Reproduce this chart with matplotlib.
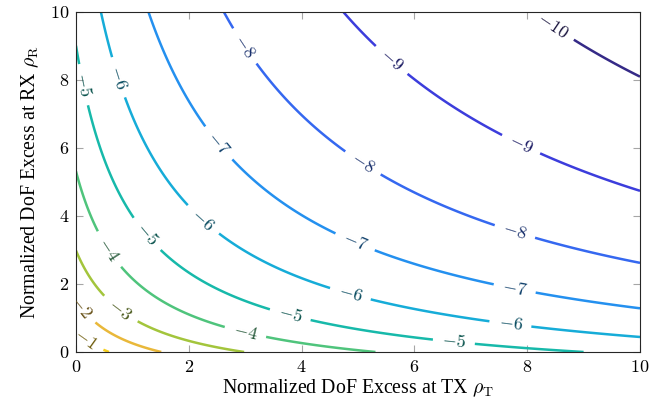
import numpy as np
import matplotlib
matplotlib.use('Agg')
import matplotlib.pyplot as plt
from matplotlib.ticker import FuncFormatter
import matplotlib.colors as mcolors

plt.rcParams['font.family'] = ['Liberation Serif', 'DejaVu Serif']
plt.rcParams['mathtext.fontset'] = 'cm'

# normalized DoF excess at TX / RX
rho_t = np.linspace(0, 10, 401)
rho_r = np.linspace(0, 10, 401)

# contour levels and their colours (parula-like)
levels = [-10, -9, -8, -7, -6, -5, -4, -3, -2, -1]
level_colors = ['#352a87', '#3c3ddc', '#3568f0', '#2490ef', '#16acd8', '#17b9aa',
                '#4fc47c', '#a3c53c', '#e9b83a', '#f6cf1d']

# where the contour labels sit
label_pos = [(8.45, 9.6), (5.66, 8.7), (7.87, 6.03),
             (3.0, 9.0), (5.09, 5.56), (7.78, 3.53),
             (2.5, 6.1), (4.95, 3.24), (7.78, 1.88),
             (0.73, 8.06), (2.25, 3.88), (4.86, 1.68), (7.7, 0.8),
             (0.12, 7.85), (1.24, 3.44), (3.8, 1.1), (6.7, 0.3),
             (0.57, 3.0), (3.0, 0.56),
             (0.78, 1.24), (0.1, 1.33), (0.16, 0.35)]

T, R = np.meshgrid(rho_t, rho_r)
Z = -5 * np.log10((1 + T) * (1 + R))

fig = plt.figure(figsize=(6.63, 4.03), dpi=100)
ax = fig.add_axes([0.1146, 0.1266, 0.8507, 0.8444])

cs = ax.contour(T, R, Z, levels=levels, colors=level_colors, linewidths=1.8)

#labels a bit darker than the lines
label_colors = [tuple(0.45 * c for c in mcolors.to_rgb(col)) for col in level_colors]
ax.clabel(cs, manual=label_pos, inline=True, inline_spacing=9,
          fmt=lambda v: r'$-%d$' % abs(v), fontsize=13, colors=label_colors)

ax.set_xlim(0, 10)
ax.set_ylim(0, 10)
ax.set_xticks([0, 2, 4, 6, 8, 10])
ax.set_yticks([0, 2, 4, 6, 8, 10])
fmt = FuncFormatter(lambda v, p: r'$%g$' % v)
ax.xaxis.set_major_formatter(fmt)
ax.yaxis.set_major_formatter(fmt)
ax.tick_params(direction='in', length=5, width=0.8, color='0.65', top=True, right=True,
               labelsize=13, pad=5)
for s in ax.spines.values():
    s.set_linewidth(0.8)
    s.set_color('0.15')

ax.set_xlabel(r'Normalized DoF Excess at TX $\rho_{\mathrm{T}}$', fontsize=14.3, labelpad=1)
ax.set_ylabel(r'Normalized DoF Excess at RX $\rho_{\mathrm{R}}$', fontsize=14.3, labelpad=6)

fig.savefig('out.png', dpi=100)
